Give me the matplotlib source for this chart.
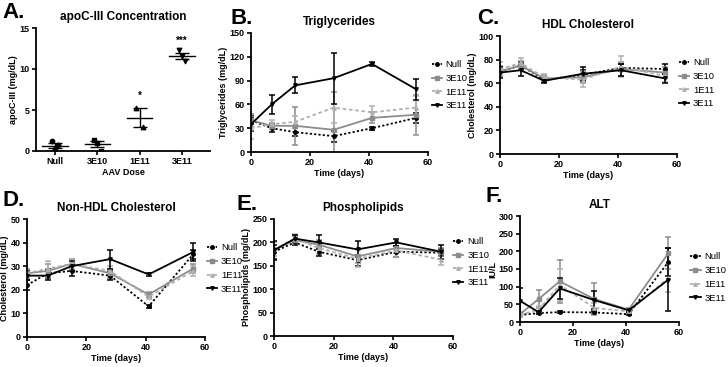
import matplotlib
matplotlib.use("Agg")
import matplotlib.pyplot as plt
from matplotlib.lines import Line2D
import numpy as np

plt.rcParams['font.family'] = ['Liberation Sans', 'DejaVu Sans']
plt.rcParams['font.weight'] = 'bold'

W, H = 728, 367

# time points (days)
days = [0, 7, 15, 28, 41, 56]
groups = ["Null", "3E10", "1E11", "3E11"]

# A. apoC-III individual values and mean/sem
apoc_points = {
    "Null": [1.2, 0.3, 0.7],
    "3E10": [1.4, 1.0, 0.05],
    "1E11": [5.2, 2.9],
    "3E11": [12.3, 11.6, 11.0],
}
apoc_mean = [0.65, 0.85, 4.05, 11.6]
apoc_sem = [0.3, 0.4, 1.15, 0.35]
apoc_stars = ["", "", "*", "***"]

# B. triglycerides
tg_mean = {
    "Null": [40, 30, 25, 20, 30, 43],
    "3E10": [40, 33, 33, 28, 43, 47],
    "1E11": [30, 35, 38, 56, 50, 56],
    "3E11": [35, 60, 84, 93, 111, 79],
}
tg_err = {
    "Null": [5, 5, 5, 7, 2, 6],
    "3E10": [8, 4, 24, 48, 7, 25],
    "1E11": [14, 5, 8, 20, 8, 15],
    "3E11": [8, 12, 10, 32, 3, 13],
}

# C. HDL cholesterol
hdl_mean = {
    "Null": [70, 75, 63, 67, 73, 72],
    "3E10": [70, 75, 64, 65, 72, 69],
    "1E11": [72, 77, 65, 63, 74, 66],
    "3E11": [69, 71, 62, 68, 71, 64],
}
hdl_err = {
    "Null": [4, 3, 2, 4, 3, 4],
    "3E10": [5, 4, 3, 5, 6, 5],
    "1E11": [6, 4, 3, 6, 9, 5],
    "3E11": [5, 5, 2, 6, 5, 4],
}

# D. non-HDL cholesterol
nhdl_mean = {
    "Null": [22, 27, 28, 26, 13, 35],
    "3E10": [27, 28, 31, 27, 18, 29],
    "1E11": [27, 29, 31, 28, 17, 28],
    "3E11": [26, 26, 30, 33, 26.5, 36],
}
nhdl_err = {
    "Null": [2, 2, 2, 2, 0.5, 2],
    "3E10": [2, 3, 2, 2, 1, 2],
    "1E11": [2, 3, 2, 2, 1, 2],
    "3E11": [2, 2, 2, 4, 0.7, 4],
}

# E. phospholipids
pl_mean = {
    "Null": [180, 200, 180, 162, 180, 178],
    "3E10": [185, 205, 195, 170, 188, 180],
    "1E11": [185, 208, 188, 165, 183, 163],
    "3E11": [183, 208, 200, 185, 200, 180],
}
pl_err = {
    "Null": [15, 6, 10, 12, 12, 8],
    "3E10": [15, 8, 10, 15, 10, 8],
    "1E11": [15, 10, 12, 18, 15, 12],
    "3E11": [20, 8, 15, 17, 7, 15],
}

# F. ALT
alt_mean = {
    "Null": [20, 25, 28, 27, 22, 170],
    "3E10": [22, 65, 115, 65, 35, 195],
    "1E11": [20, 35, 105, 40, 30, 125],
    "3E11": [60, 28, 95, 62, 33, 120],
}
alt_err = {
    "Null": [3, 3, 3, 3, 3, 40],
    "3E10": [5, 25, 60, 45, 5, 45],
    "1E11": [5, 10, 45, 15, 5, 40],
    "3E11": [35, 3, 30, 25, 5, 90],
}

styles = {
    "Null": dict(color="black", ls=(0, (1.2, 1.2)), marker="o", ms=2.5),
    "3E10": dict(color="#8c8c8c", ls="-", marker="s", ms=2.5),
    "1E11": dict(color="#b0b0b0", ls=(0, (2, 1.5)), marker="^", ms=2.5),
    "3E11": dict(color="black", ls="-", marker="v", ms=2.5),
}

fig = plt.figure(figsize=(W / 100, H / 100), dpi=100)


def add_ax(left, right, top, bottom):
    ax = fig.add_axes([left / W, (H - bottom) / H, (right - left) / W, (bottom - top) / H])
    for s in ["top", "right"]:
        ax.spines[s].set_visible(False)
    for s in ["left", "bottom"]:
        ax.spines[s].set_linewidth(1.3)
    ax.tick_params(width=1.2, length=3, labelsize=6.5, pad=1.5)
    return ax


def bold_ticks(ax):
    for lab in ax.get_xticklabels() + ax.get_yticklabels():
        lab.set_fontweight("bold")


def letter(x, y, s):
    fig.text(x / W, 1 - y / H, s, fontsize=16, fontweight="bold", va="center", ha="left")


def time_panel(ax, means, errs, ymax, yticks, title, ylabel, leg_x, leg_y):
    handles = []
    for g in groups:
        st = styles[g]
        ax.errorbar(days, means[g], yerr=errs[g], color=st["color"], ls=st["ls"],
                    marker=st["marker"], ms=st["ms"], lw=1.3, elinewidth=1.1,
                    capsize=2.5, capthick=1.1)
        handles.append(Line2D([], [], color=st["color"], ls=st["ls"], marker=st["marker"],
                              ms=st["ms"], lw=1.3, label=g))
    ax.set_xlim(0, 60)
    ax.set_ylim(0, ymax)
    ax.set_xticks([0, 20, 40, 60])
    ax.set_yticks(yticks)
    bold_ticks(ax)
    ax.set_title(title, fontsize=8.5, fontweight="bold", pad=6)
    ax.set_ylabel(ylabel, fontsize=6.5, fontweight="bold", labelpad=1)
    ax.set_xlabel("Time (days)", fontsize=6.5, fontweight="bold", labelpad=1)
    ax.legend(handles=handles, loc="center left", bbox_to_anchor=(1 + leg_x, leg_y),
              frameon=False, handlelength=1.1, handletextpad=0.4, labelspacing=0.5,
              borderaxespad=0, borderpad=0, prop={"weight": "normal", "size": 6.8})


# A
axA = add_ax(36, 210, 28, 151)
xs = np.arange(len(groups))
marks = ["o", "s", "^", "v"]
for i, g in enumerate(groups):
    pts = apoc_points[g]
    offs = np.linspace(-0.08, 0.08, len(pts)) if len(pts) > 1 else [0]
    axA.scatter(xs[i] + np.array(offs), pts, marker=marks[i], s=10, color="black", zorder=3)
    axA.plot([xs[i] - 0.3, xs[i] + 0.3], [apoc_mean[i]] * 2, color="black", lw=1)
    axA.errorbar(xs[i], apoc_mean[i], yerr=apoc_sem[i], color="black", lw=1,
                 capsize=5, capthick=1)
    if apoc_stars[i]:
        axA.text(xs[i], apoc_mean[i] + apoc_sem[i] + 0.9, apoc_stars[i], ha="center",
                 va="bottom", fontsize=7, fontweight="bold")
axA.set_xlim(-0.45, 3.66)
axA.set_ylim(0, 15)
axA.set_yticks([0, 5, 10, 15])
axA.set_xticks(xs)
axA.set_xticklabels(groups)
bold_ticks(axA)
axA.set_title("apoC-III Concentration", fontsize=8.5, fontweight="bold", pad=6)
axA.set_ylabel("apoC-III (mg/dL)", fontsize=6.5, fontweight="bold", labelpad=1)
axA.set_xlabel("AAV Dose", fontsize=6.5, fontweight="bold", labelpad=1)

# B
axB = add_ax(251, 428, 33, 152)
time_panel(axB, tg_mean, tg_err, 150, [0, 30, 60, 90, 120, 150], "Triglycerides",
           "Triglycerides (mg/dL)", 0.02, 0.56)

# C
axC = add_ax(500, 677, 36, 154)
time_panel(axC, hdl_mean, hdl_err, 100, [0, 20, 40, 60, 80, 100], "HDL Cholesterol",
           "Cholesterol (mg/dL)", 0.01, 0.60)

# D
axD = add_ax(27, 205, 219, 337)
time_panel(axD, nhdl_mean, nhdl_err, 50, [0, 10, 20, 30, 40, 50], "Non-HDL Cholesterol",
           "Cholesterol (mg/dL)", 0.01, 0.58)

# E
axE = add_ax(274, 453, 219, 336)
time_panel(axE, pl_mean, pl_err, 250, [0, 50, 100, 150, 200, 250], "Phospholipids",
           "Phospholipids (mg/dL)", 0.0, 0.63)

# F
axF = add_ax(520, 679, 216, 322)
time_panel(axF, alt_mean, alt_err, 300, [0, 50, 100, 150, 200, 250, 300], "ALT", "IU/L",
           0.07, 0.42)

letter(2, 13, "A.")
letter(231, 18, "B.")
letter(477, 18, "C.")
letter(2, 200, "D.")
letter(236, 204, "E.")
letter(486, 196, "F.")

fig.savefig("out.png", dpi=100)
